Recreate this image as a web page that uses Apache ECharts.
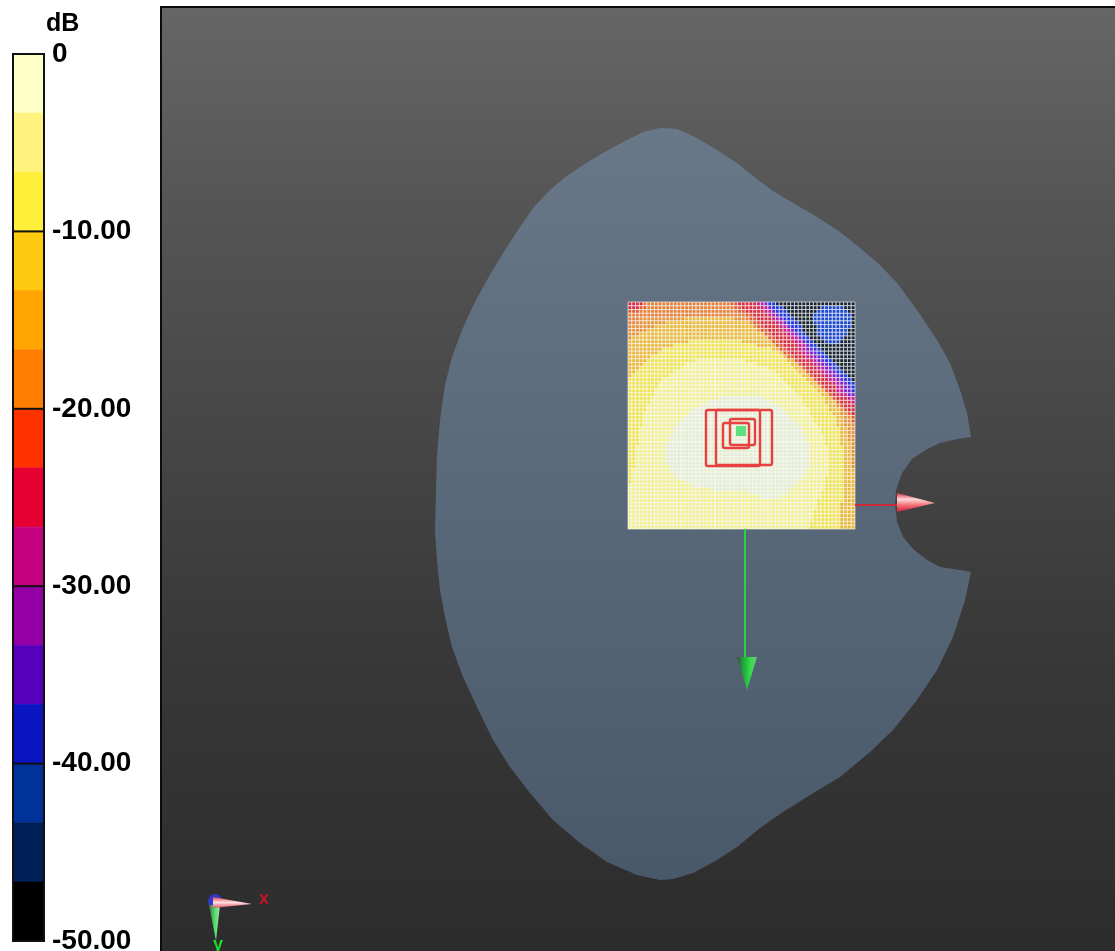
<!DOCTYPE html>
<html>
<head>
<meta charset="utf-8">
<style>html,body{margin:0;padding:0;background:#fff;overflow:hidden}#c{width:1115px;height:951px}</style>
<script src="https://cdn.jsdelivr.net/npm/echarts@6/dist/echarts.min.js"></script>
</head>
<body>
<div id="c"></div>
<script>
// ---------- colour bar ----------
const dbUnit = 'dB';
const dbTicks = [-50, -40, -30, -20, -10, 0];
const dbTickLabels = ['-50.00', '-40.00', '-30.00', '-20.00', '-10.00', '0'];
const dbBandTop = [0, -3.33, -6.67, -10, -13.33, -16.67, -20, -23.33, -26.67, -30, -33.33, -36.67, -40, -43.33, -46.67];
const dbBandBottom = [-3.33, -6.67, -10, -13.33, -16.67, -20, -23.33, -26.67, -30, -33.33, -36.67, -40, -43.33, -46.67, -50];
const dbBandColors = ['#ffffc8', '#fff27f', '#ffee3a', '#ffcb10', '#ffa400', '#ff7e00', '#ff3200', '#e60032', '#c4007e',
  '#9400a6', '#5600bc', '#0a14c0', '#003299', '#002058', '#000000'];

// ---------- phantom outline ----------
const phantomOutline = [[660,128],[677,129],[697,138],[717,150],[737,163],[757,179],[773,191],[793,203],[817,217],[840,232],
  [860,248],[880,265],[897,283],[917,310],[937,340],[950,363],[960,390],[967,413],[971,437],[957,439],[940,443],[927,449],
  [912,459],[902,473],[896,490],[895,505],[897,522],[903,537],[913,549],[927,560],[940,567],[960,570],[971,572],
  [965,600],[953,637],[937,670],[917,700],[893,730],[870,752],[840,777],[810,795],[783,812],[760,828],[737,847],[717,860],
  [693,873],[673,879],[660,880],[637,875],[607,862],[580,843],[553,820],[530,793],[510,767],[493,740],[477,707],[463,677],
  [452,647],[445,617],[440,590],[437,560],[435,530],[436,490],[437,455],[440,420],[445,385],[452,357],[462,330],[474,304],
  [487,280],[503,253],[520,227],[534,207],[549,191],[564,178],[583,165],[603,153],[623,142],[643,132]];
const panelEdges = [[161,951],[161,7],[1115,7]];

// ---------- area scan: band read per cell, one row per line, "band:end column" ----------
const scanColumns = 60;
const scanRows = [
'8:4 6:27 7:29 8:34 9:36 a:37 b:39 d:60',
'8:3 7:5 6:28 7:30 8:35 9:37 a:38 b:41 d:51 c:57 d:60',
'7:3 6:29 7:31 8:36 9:38 a:39 b:42 d:50 c:58 d:60',
'6:31 7:33 8:37 9:39 a:40 b:43 d:49 c:59 d:60',
'6:3 5:15 4:28 5:31 6:32 7:34 8:38 9:40 a:41 b:44 d:49 c:59 d:60',
'6:2 5:10 4:32 5:33 7:35 8:39 9:41 a:42 b:45 d:49 c:59 d:60',
'5:7 4:33 5:34 7:36 8:40 9:42 a:43 b:46 d:50 c:59 d:60',
'5:5 4:34 5:35 7:37 8:41 9:43 a:44 b:46 d:50 c:58 d:60',
'5:3 4:36 7:38 8:42 9:44 a:45 b:47 d:50 c:58 d:60',
'5:1 4:37 7:39 8:43 9:45 a:46 b:48 d:51 c:57 d:60',
'4:16 2:30 4:38 7:40 8:44 9:46 a:47 b:49 d:52 c:56 d:60',
'4:12 2:34 4:39 7:41 8:45 9:47 a:48 b:50 d:60',
'4:9 2:38 4:40 7:42 8:45 9:47 a:49 b:51 d:60',
'4:8 2:40 4:41 7:43 8:46 9:48 a:50 b:52 d:60',
'4:6 2:41 4:42 7:44 8:47 9:49 a:51 b:53 d:60',
'4:5 2:18 1:31 2:42 4:44 7:45 8:48 9:50 a:52 b:54 d:60',
'4:4 2:15 1:34 2:43 4:45 7:46 8:49 9:51 a:53 b:55 d:60',
'4:3 2:14 1:37 2:44 4:46 7:47 8:50 9:52 a:54 b:56 d:60',
'4:2 2:12 1:39 2:45 4:47 7:48 8:51 9:53 a:55 b:57 d:60',
'4:1 2:11 1:40 2:46 4:48 7:49 8:52 9:54 a:56 b:58 d:60',
'2:9 1:41 2:47 4:49 7:50 8:53 9:55 a:57 b:59 d:60',
'2:8 1:42 2:48 4:50 7:51 8:54 9:56 a:58 b:60',
'2:8 1:43 2:49 4:51 7:52 8:55 9:57 a:59 b:60',
'2:7 1:44 2:50 4:52 7:53 8:55 9:57 a:59 b:60',
'2:7 1:45 2:51 4:53 7:54 8:56 9:58 a:60',
'2:6 1:24 0:36 1:46 2:52 4:54 7:55 8:58 9:60',
'2:6 1:21 0:38 1:46 2:52 4:55 7:56 8:59 9:60',
'2:5 1:19 0:40 1:47 2:53 4:55 5:56 7:57 8:60',
'2:5 1:17 0:41 1:48 2:53 4:56 5:57 7:58 8:60',
'2:4 1:16 0:42 1:48 2:54 4:56 5:58 7:59 8:60',
'2:4 1:15 0:43 1:49 2:55 4:57 5:59 7:60',
'2:4 1:14 0:44 1:49 2:55 4:57 5:59 7:60',
'2:4 1:13 0:45 1:50 2:55 4:57 5:60',
'2:3 1:12 0:46 1:51 2:56 4:58 5:60',
'2:3 1:12 0:46 1:51 2:56 4:58 5:60',
'2:3 1:11 0:47 1:52 2:56 4:58 5:60',
'2:3 1:11 0:47 1:52 2:56 4:58 5:60',
'2:3 1:10 0:48 1:52 2:56 4:59 5:60',
'2:2 1:10 0:48 1:53 2:57 4:59 5:60',
'2:2 1:10 0:48 1:53 2:57 4:59 5:60',
'2:2 1:10 0:48 1:53 2:57 4:59 5:60',
'2:2 1:10 0:48 1:53 2:57 4:59 5:60',
'2:2 1:10 0:48 1:53 2:57 4:59 5:60',
'2:2 1:11 0:48 1:53 2:57 4:59 5:60',
'2:1 1:11 0:47 1:53 2:57 4:60',
'2:1 1:12 0:47 1:53 2:57 4:60',
'2:1 1:13 0:46 1:52 2:57 4:60',
'2:1 1:15 0:45 1:52 2:57 4:60',
'1:17 0:44 1:52 2:57 4:60',
'1:22 0:43 1:52 2:57 4:60',
'1:32 0:42 1:51 2:57 4:60',
'1:35 0:40 1:51 2:57 4:60',
'1:50 2:57 4:60',
'1:50 2:56 4:60',
'1:50 2:56 4:60',
'1:49 2:56 4:60',
'1:49 2:56 4:60',
'1:49 2:56 4:60',
'1:48 2:56 4:60',
'1:48 2:56 4:60'];
const scanBandColors = {'0':'#e4edd0','1':'#f2f090','2':'#f0e450','4':'#ebb838','5':'#e69238','6':'#e68038','7':'#e25c34',
  '8':'#d82c40','9':'#c41e92','a':'#7424d6','b':'#2038dc','c':'#1c48d0','d':'#182430'};
const scanExtent = [628, 302, 855, 529];

// ---------- scan boxes and probe markers ----------
const zoomBoxes = [[706,410,760,466],[716,410,772,465],[723,423,749,448],[730,419,755,445]];
const peakCell = [736,426,746,436];
const xArrowShaft = [[855,505],[897,505]];
const xArrowCone = [[897,493],[935,503],[897,512]];
const yArrowShaft = [[745,529],[745,660]];
const yArrowCone = [[737,657],[757,657],[747,690]];
const triadXCone = [[213,897],[252,904],[213,908]];
const triadYCone = [[209,905],[220,905],[216,941]];
const triadOrigin = [215,901];
const triadNames = [['x',264,899],['y',218,945]];

// ---------- series helpers ----------
const scanCells = [];
scanRows.forEach((row, r) => {
  let start = 0;
  row.split(' ').forEach(tok => {
    const [band, end] = tok.split(':');
    for (let c = start; c < +end; c++) scanCells.push([c, r, band]);
    start = +end;
  });
});
const stops = (x2, y2, list) => ({type:'linear',x:0,y:0,x2,y2,colorStops:list.map((c,i)=>({offset:i/(list.length-1),color:c}))});
const plot = {xAxisIndex:1, yAxisIndex:1, type:'custom', silent:true, animation:false, clip:false};
function polySeries(points, style, z) {
  return Object.assign({}, plot, {z, data:[[points[0][0],points[0][1]]],
    renderItem:(p, api) => ({type:'polygon', shape:{points:points.map(q=>api.coord(q))}, style})});
}
function lineSeries(points, stroke, lineWidth, z) {
  return Object.assign({}, plot, {z, data:[[points[0][0],points[0][1]]],
    renderItem:(p, api) => ({type:'polyline', shape:{points:points.map(q=>api.coord(q))}, style:{stroke, lineWidth, fill:null}})});
}
function boxOf(api, b) {
  const a = api.coord([b[0],b[1]]), d = api.coord([b[2],b[3]]);
  return {x:a[0], y:a[1], width:d[0]-a[0], height:d[1]-a[1]};
}

const option = {
  animation:false,
  backgroundColor:'#fff',
  grid:[
    {left:13, top:54, width:31, height:887, show:false},
    {left:161, top:7, width:954, height:944, show:true, borderWidth:0,
      backgroundColor:{type:'linear',x:0,y:0,x2:0,y2:1,colorStops:[
        {offset:0,color:'#666666'},{offset:0.21,color:'#555555'},{offset:0.68,color:'#383838'},{offset:1,color:'#2c2c2c'}]}}
  ],
  xAxis:[
    {gridIndex:0, type:'value', min:0, max:1, show:false},
    {gridIndex:1, type:'value', min:161, max:1115, show:false}
  ],
  yAxis:[
    {gridIndex:0, type:'value', min:dbTicks[0], max:dbTicks[dbTicks.length-1], interval:10, position:'right', show:false},
    {gridIndex:1, type:'value', inverse:true, min:7, max:951, show:false}
  ],
  series:[
    {type:'custom', xAxisIndex:0, yAxisIndex:0, silent:true, z:2, clip:false,
      data:dbBandTop.map((t,i)=>[0,t,dbBandBottom[i]]),
      renderItem:(p, api) => {
        const a = api.coord([0, api.value(1)]), d = api.coord([1, api.value(2)]);
        const col = dbBandColors[p.dataIndex];
        return {type:'rect', shape:{x:a[0], y:a[1], width:d[0]-a[0], height:d[1]-a[1]},
          style:{fill:col, stroke:col, lineWidth:0.6}};
      }},
    {type:'custom', xAxisIndex:0, yAxisIndex:0, silent:true, z:3, clip:false,
      data:[[0,dbTicks[dbTicks.length-1],dbTicks[0]]],
      renderItem:(p, api) => {
        const a = api.coord([0, api.value(1)]), d = api.coord([1, api.value(2)]);
        const children = [{type:'rect', shape:{x:a[0], y:a[1], width:d[0]-a[0], height:d[1]-a[1]},
          style:{fill:null, stroke:'#111', lineWidth:2}}];
        dbTicks.forEach((t, i) => {
          const l = api.coord([0,t]), r = api.coord([1,t]);
          children.push({type:'line', shape:{x1:l[0], y1:l[1], x2:r[0], y2:r[1]}, style:{stroke:'#111', lineWidth:2}});
          children.push({type:'text', style:{x:r[0]+8, y:r[1], text:dbTickLabels[i], fill:'#000',
            font:'bold 28px "Liberation Sans"', textAlign:'left', textVerticalAlign:'middle'}});
        });
        children.push({type:'text', style:{x:a[0]+33, y:a[1]-30, text:dbUnit, fill:'#000',
          font:'bold 25px "Liberation Sans"', textAlign:'left', textVerticalAlign:'middle'}});
        return {type:'group', children};
      }},

    polySeries(phantomOutline, {fill:stops(0,1,['#697889','#4a596a'])}, 2),
    lineSeries(panelEdges, '#0c0c0c', 2, 8),

    Object.assign({}, plot, {z:3, data:scanCells.map(c=>[c[0],c[1]]),
      renderItem:(p, api) => {
        const c = api.value(0), r = api.value(1);
        const w = (scanExtent[2]-scanExtent[0])/scanColumns, h = (scanExtent[3]-scanExtent[1])/scanRows.length;
        const a = api.coord([scanExtent[0]+c*w, scanExtent[1]+r*h]);
        const d = api.coord([scanExtent[0]+(c+1)*w, scanExtent[1]+(r+1)*h]);
        return {type:'rect', shape:{x:a[0], y:a[1], width:d[0]-a[0], height:d[1]-a[1]},
          style:{fill:scanBandColors[scanCells[p.dataIndex][2]], stroke:'rgba(255,255,255,0.62)', lineWidth:1}};
      }}),

    Object.assign({}, plot, {z:4, data:zoomBoxes.map(b=>[b[0],b[1]]),
      renderItem:(p, api) => ({type:'rect', shape:Object.assign(boxOf(api, zoomBoxes[p.dataIndex]),{r:2}),
        style:{fill:null, stroke:'#e8403f', lineWidth:2.4}})}),
    Object.assign({}, plot, {z:5, data:[[peakCell[0],peakCell[1]]],
      renderItem:(p, api) => ({type:'rect', shape:boxOf(api, peakCell), style:{fill:'#5fe080'}})}),

    lineSeries(xArrowShaft, '#cc2a3a', 2, 4),
    polySeries(xArrowCone, {fill:stops(0,1,['#d92a48','#ffd8d8','#f06a70','#c8203c'])}, 5),
    lineSeries(yArrowShaft, '#22d83c', 2, 4),
    polySeries(yArrowCone, {fill:stops(1,0,['#3c4c44','#22a83a','#34dc4c','#6cc87a'])}, 5),

    Object.assign({}, plot, {z:4, data:[triadOrigin],
      renderItem:(p, api) => {
        const c = api.coord(triadOrigin);
        return {type:'circle', shape:{cx:c[0], cy:c[1], r:7}, style:{fill:'#3238c8'}};
      }}),
    polySeries(triadYCone, {fill:stops(1,0,['#555f58','#44e060','#b8d8b8'])}, 5),
    polySeries(triadXCone, {fill:stops(0,1,['#e04050','#ffe0e0','#e05060'])}, 6),
    Object.assign({}, plot, {z:7, data:triadNames.map(t=>[t[1],t[2]]),
      renderItem:(p, api) => {
        const t = triadNames[p.dataIndex], c = api.coord([t[1],t[2]]);
        return {type:'text', style:{x:c[0], y:c[1], text:t[0], fill:t[0]==='x'?'#c41428':'#1edc2c',
          font:'bold 18px "Liberation Sans"', textAlign:'center', textVerticalAlign:'middle'}};
      }})
  ]
};
echarts.init(document.getElementById('c'), null, {renderer:'canvas'}).setOption(option);
</script>
</body>
</html>
